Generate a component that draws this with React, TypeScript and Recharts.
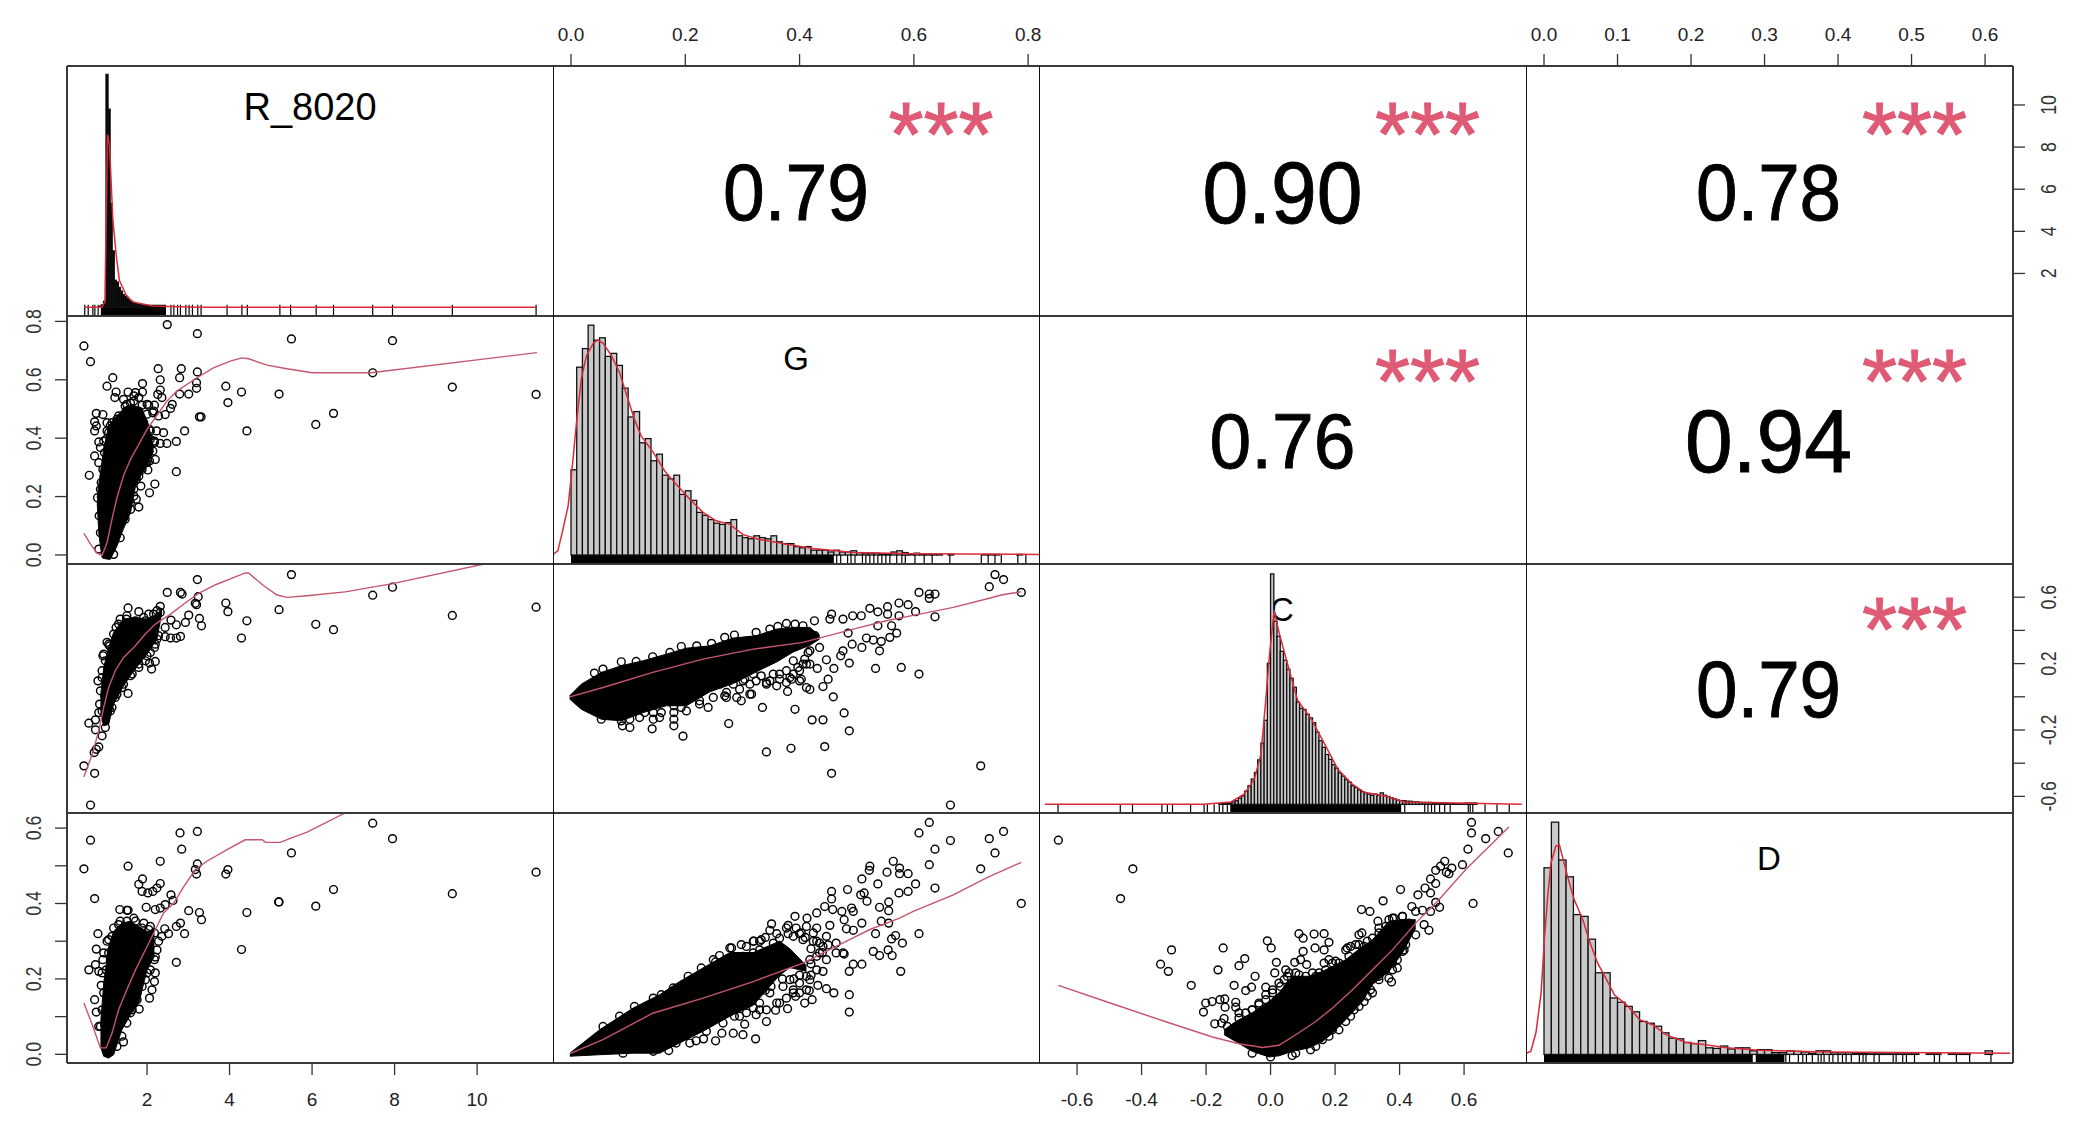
import React from "react";
import { ComposedChart, XAxis, YAxis, Scatter, Line, Area, Bar, ReferenceArea } from "recharts";

type P = [number, number];
type B = [number, number, number];

/* ---------- axis ranges and ticks ---------- */
const rRange: P = [0.06, 11.84];
const gRange: P = [-0.0315, 0.819];
const cRange: P = [-0.718, 0.792];
const dRange: P = [-0.0245, 0.638];
const rRowRange: P = [-0.02, 11.85];
const gRowRange: P = [-0.031, 0.8185];
const cRowRange: P = [-0.70, 0.80];
const dRowRange: P = [-0.023, 0.64];

const rTicksX = [2, 4, 6, 8, 10];
const gTicksX = [0, 0.2, 0.4, 0.6, 0.8];
const cTicksX = [-0.6, -0.4, -0.2, 0, 0.2, 0.4, 0.6];
const dTicksX = [0, 0.1, 0.2, 0.3, 0.4, 0.5, 0.6];
const rTicksY = [2, 4, 6, 8, 10];
const gTicksY = [0, 0.2, 0.4, 0.6, 0.8];
const cTicksY = [-0.6, -0.4, -0.2, 0, 0.2, 0.4, 0.6];
const cLabelsY = [-0.6, -0.2, 0.2, 0.6];
const dTicksY = [0, 0.1, 0.2, 0.3, 0.4, 0.5, 0.6];
const dLabelsY = [0, 0.2, 0.4, 0.6];

/* ---------- correlations ---------- */
const corRG = "0.79";
const corRC = "0.90";
const corRD = "0.78";
const corGC = "0.76";
const corGD = "0.94";
const corCD = "0.79";

/* ---------- histograms (diagonal) ---------- */
const rBins: P[] = [[0.87,0.02],[0.92,0.04],[0.97,0.1],[1.03,3.88],[1.08,3.3],[1.13,1.73],[1.18,0.94],[1.23,0.45],[1.28,0.42],[1.33,0.33],[1.38,0.27],[1.43,0.21],[1.48,0.18],[1.53,0.15],[1.58,0.12],[1.63,0.1],[1.68,0.08],[1.73,0.06],[1.78,0.05],[1.83,0.05],[1.88,0.04],[1.93,0.03],[2.03,0.03]];
const gHeights = [1.42,3.13,3.44,3.83,3.58,3.62,3.31,3.36,3.16,2.78,2.30,2.39,1.87,1.94,1.57,1.68,1.33,1.27,1.33,1.01,1.07,0.91,0.71,0.66,0.59,0.53,0.51,0.54,0.59,0.32,0.29,0.27,0.32,0.29,0.27,0.32,0.22,0.19,0.19,0.14,0.12,0.14,0.08,0.08,0.08,0.05,0.08,0.05,0.05,0.07,0.04,0.03,0.03,0.03,0.02,0.02,0.05,0.07,0.04,0.02,0.03,0.01,0.01,0.01,0.01,0,0.01,0,0,0,0,0,0.01,0.01,0.01,0,0,0,0.01];
const cHeights = [0.01,0.01,0.02,0.02,0.04,0.06,0.10,0.14,0.22,0.31,0.42,0.53,0.74,1.02,1.40,2.35,3.84,3.05,2.8,2.55,2.4,2.25,2.1,1.95,1.7,1.6,1.58,1.5,1.44,1.36,1.2,1.06,0.95,0.83,0.75,0.66,0.6,0.52,0.47,0.41,0.37,0.31,0.28,0.24,0.21,0.19,0.17,0.15,0.17,0.15,0.19,0.15,0.13,0.11,0.09,0.07,0.06,0.06,0.05,0.05,0.04,0.04,0.03,0.03,0.03,0.03,0.02,0.02,0.02,0.01,0.01,0.01,0.01,0.01,0.01,0.01,0.02,0.02,0.02,0.02];
const dHeights = [3.11,3.87,3.24,2.96,2.33,2.30,1.92,1.36,1.36,0.94,0.87,0.80,0.71,0.55,0.52,0.47,0.36,0.27,0.26,0.20,0.18,0.23,0.11,0.10,0.14,0.09,0.11,0.11,0.06,0.08,0.08,0.03,0.03,0.06,0.05,0.04,0.02,0.06,0.06,0.03,0.03,0.03,0.02,0.02,0.01,0.01,0.01,0.01,0.01,0.01,0.01,0,0.01,0.01,0,0.01,0.01,0.01,0,0,0.06];

/* ---------- density curves ---------- */
const rDensity: P[] = [[0.47,0],[0.9,0],[0.98,0.09],[1.04,2.88],[1.09,2.7],[1.17,1.48],[1.25,0.88],[1.33,0.45],[1.49,0.21],[1.65,0.09],[2.13,0.02],[3.2,0],[11.43,0]];
const gDensity: P[] = [[-0.0315,0.01],[-0.023,0.07],[-0.014,0.43],[-0.005,0.82],[0.0035,1.59],[0.009,2.15],[0.018,2.93],[0.027,3.32],[0.039,3.53],[0.047,3.58],[0.056,3.53],[0.071,3.32],[0.085,3.04],[0.097,2.68],[0.111,2.26],[0.123,1.98],[0.144,1.71],[0.164,1.40],[0.184,1.18],[0.208,0.93],[0.231,0.71],[0.254,0.57],[0.278,0.51],[0.301,0.34],[0.33,0.26],[0.377,0.18],[0.424,0.11],[0.494,0.04],[0.6,0.02],[0.819,0.01]];
const cDensity: P[] = [[-0.70,0],[-0.206,0],[-0.123,0.04],[-0.082,0.17],[-0.051,0.41],[-0.03,0.83],[-0.016,1.67],[-0.003,2.51],[0.011,3.23],[0.026,2.87],[0.053,2.33],[0.084,1.73],[0.125,1.43],[0.167,1.01],[0.208,0.59],[0.25,0.35],[0.291,0.20],[0.354,0.14],[0.416,0.04],[0.779,0]];
const dDensity: P[] = [[-0.0245,0.02],[-0.018,0.05],[-0.011,0.36],[-0.004,1.02],[0.0005,1.91],[0.005,2.63],[0.0095,3.19],[0.016,3.47],[0.021,3.49],[0.025,3.30],[0.032,2.97],[0.041,2.58],[0.053,2.24],[0.062,1.88],[0.073,1.52],[0.084,1.27],[0.096,0.99],[0.112,0.83],[0.13,0.58],[0.148,0.49],[0.166,0.33],[0.193,0.20],[0.22,0.16],[0.248,0.11],[0.293,0.07],[0.384,0.04],[0.634,0.02]];

/* ---------- rugs ---------- */
const rRug = [0.49,0.574,0.687,0.735,0.815,2.58,2.65,2.74,2.81,2.94,3.02,3.10,3.23,3.31,3.94,4.30,4.43,5.22,5.48,6.10,6.52,7.47,7.95,9.40,11.43];
const rRugSolid: P[] = [[0.88,2.46]];
const gRug = [0.465,0.472,0.484,0.49,0.497,0.51,0.516,0.523,0.53,0.537,0.544,0.551,0.558,0.57,0.579,0.585,0.602,0.618,0.632,0.663,0.718,0.73,0.742,0.753,0.782,0.796];
const gRugSolid: P[] = [[0,0.46]];
const cRug = [-0.659,-0.466,-0.428,-0.337,-0.32,-0.304,-0.248,-0.206,-0.196,-0.175,-0.159,-0.148,-0.134,0.416,0.478,0.488,0.499,0.509,0.524,0.54,0.557,0.613,0.619,0.627,0.665,0.702,0.74];
const cRugSolid: P[] = [[-0.125,0.405]];
const dRug = [0.329,0.334,0.346,0.352,0.357,0.365,0.373,0.377,0.381,0.388,0.393,0.40,0.406,0.411,0.418,0.429,0.434,0.438,0.449,0.456,0.475,0.479,0.488,0.493,0.504,0.531,0.538,0.561,0.579,0.608];
const dRugSolid: P[] = [[0,0.284],[0.288,0.327]];

/* ---------- scatter: G against R_8020 ---------- */
const gVsR: P[] = [[2.49,0.789],[3.22,0.758],[5.50,0.740],[0.47,0.716],[0.63,0.662],[2.27,0.638],[2.83,0.638],[3.22,0.627],[1.17,0.607],[2.32,0.600],[2.79,0.607],[1.03,0.578],[1.25,0.558],[1.22,0.539],[1.89,0.587],[1.89,0.558],[2.32,0.565],[2.26,0.550],[2.36,0.539],[1.54,0.558],[2.79,0.551],[3.01,0.551],[3.20,0.571],[3.20,0.590],[3.91,0.578],[4.29,0.558],[5.20,0.551],[3.96,0.522],[2.61,0.516],[2.57,0.502],[2.44,0.481],[3.27,0.473],[3.31,0.473],[4.42,0.425],[2.91,0.425],[2.40,0.419],[2.71,0.389],[2.48,0.382],[2.32,0.382],[2.20,0.327],[2.02,0.291],[2.71,0.285],[2.19,0.243],[2.06,0.213],[1.80,0.164],[0.73,0.339],[0.60,0.273],[0.77,0.485],[0.73,0.456],[0.77,0.442],[0.73,0.425],[0.93,0.481],[1.07,0.419],[0.83,0.387],[1.43,0.533],[1.68,0.545],[1.88,0.513],[2.04,0.513],[2.18,0.513],[1.80,0.493],[2.0,0.482],[2.14,0.487],[1.92,0.453],[2.06,0.430],[2.23,0.425],[2.18,0.385],[2.06,0.322],[1.96,0.316],[1.85,0.236],[1.74,0.191],[1.03,0.453],[11.43,0.55],[9.40,0.575],[7.95,0.734],[7.47,0.624],[6.09,0.447],[6.52,0.485],
[0.83,0.02],[0.87,0.076],[0.84,0.134],[0.80,0.196],[0.89,0.248],[0.93,0.293],[0.97,0.350],[1.01,0.396],[1.11,0.442],[1.31,0.476],[1.47,0.510],[1.60,0.52],[1.19,0.002],[1.35,0.059],[1.47,0.122],[1.60,0.156],[1.68,0.202],[1.74,0.259],[1.88,0.293],[2.0,0.316],[2.14,0.356],[2.18,0.390],[2.08,0.425],
[1.51,0.516],[1.68,0.527],[1.80,0.539],[2.0,0.516],[2.16,0.493],[2.28,0.476],[1.72,0.556],[1.27,0.465],[1.15,0.453],[1.03,0.425],[0.95,0.39],[0.87,0.368],[0.83,0.316],[0.87,0.225],[2.08,0.396],[2.0,0.339],[1.88,0.328],[1.80,0.27],[1.68,0.225],[1.6,0.179]];
const gVsRCore: B[] = [[0.79,0.185,0.196],[0.83,0.076,0.24],[0.87,0.03,0.282],[0.91,-0.009,0.32],[0.95,-0.012,0.362],[1.07,-0.015,0.442],[1.11,-0.015,0.45],[1.27,0.03,0.476],[1.39,0.076,0.495],[1.43,0.09,0.505],[1.60,0.145,0.513],[1.72,0.236,0.51],[1.88,0.28,0.499],[2.0,0.305,0.46],[2.04,0.32,0.442],[2.16,0.356,0.368]];
const gVsRLoess: P[] = [[0.47,0.074],[0.63,0.037],[0.79,0.006],[0.91,-0.001],[1.03,0.042],[1.15,0.122],[1.27,0.196],[1.43,0.271],[1.60,0.328],[1.80,0.379],[2.0,0.430],[2.20,0.470],[2.48,0.527],[2.73,0.562],[3.21,0.607],[3.62,0.642],[4.02,0.664],[4.30,0.675],[4.46,0.672],[4.91,0.650],[5.39,0.638],[6.0,0.624],[7.43,0.624],[11.45,0.693]];

/* ---------- scatter: C against R_8020 ---------- */
const cVsR: P[] = [[3.22,0.706],[5.50,0.736],[2.49,0.629],[2.81,0.629],[2.85,0.619],[3.24,0.603],[3.17,0.563],[3.20,0.555],[3.91,0.565],[3.96,0.513],[5.20,0.525],[4.42,0.458],[4.29,0.354],[1.54,0.535],[1.80,0.513],[2.32,0.545],[2.32,0.508],[3.01,0.492],[3.27,0.472],[3.32,0.428],[2.93,0.448],[2.71,0.434],[2.58,0.462],[2.44,0.418],[2.81,0.364],[2.71,0.354],[2.57,0.354],[2.44,0.362],[2.28,0.368],[2.20,0.213],[2.06,0.203],[2.11,0.167],[1.80,0.177],[1.54,0.020],[0.81,0.096],[0.93,0.247],[1.07,0.317],[1.25,0.418],[0.59,-0.159],[0.75,-0.139],[0.75,-0.199],[0.91,-0.235],[0.99,-0.185],[0.83,-0.302],[0.77,-0.316],[0.72,-0.336],[0.47,-0.416],[0.73,-0.461],[0.63,-0.652],[0.83,-0.095],[7.47,0.612],[7.95,0.66],[9.40,0.49],[11.43,0.54],[6.09,0.437],[6.52,0.404],
[0.87,0.036],[0.91,0.116],[0.99,0.217],[1.09,0.307],[1.19,0.378],[1.31,0.438],[1.50,0.468],[1.72,0.458],[1.96,0.458],[2.16,0.498],[1.11,-0.085],[1.23,-0.004],[1.39,0.056],[1.60,0.127],[1.80,0.197],[2.0,0.247],[2.18,0.297],[2.24,0.348],[0.91,-0.085],[0.85,-0.044],
[1.35,0.468],[1.51,0.488],[1.92,0.478],[2.04,0.498],[2.24,0.519],[1.03,0.328],[0.95,0.257],[0.91,0.157],[1.64,0.137],[1.43,0.076],[1.27,0.016],[1.15,-0.064],[2.08,0.267],[2.2,0.317],[1.96,0.217]];
const cVsRCore: B[] = [[0.87,-0.105,-0.004],[0.95,-0.175,0.177],[1.07,-0.165,0.297],[1.19,-0.044,0.388],[1.43,0.066,0.468],[1.68,0.157,0.478],[2.0,0.257,0.468],[2.24,0.348,0.498],[2.36,0.508,0.529]];
const cVsRLoess: P[] = [[0.47,-0.483],[0.67,-0.346],[0.83,-0.205],[0.95,-0.064],[1.07,0.056],[1.23,0.157],[1.43,0.237],[1.68,0.297],[1.96,0.378],[2.20,0.438],[2.57,0.498],[2.89,0.559],[3.25,0.623],[3.66,0.675],[4.02,0.710],[4.38,0.746],[4.46,0.746],[4.83,0.669],[5.15,0.613],[5.39,0.599],[5.88,0.609],[6.8,0.632],[7.95,0.682],[10.17,0.80]];

/* ---------- scatter: D against R_8020 ---------- */
const dVsR: P[] = [[2.80,0.587],[3.22,0.591],[0.63,0.568],[2.84,0.544],[2.32,0.512],[1.54,0.499],[0.47,0.492],[3.22,0.505],[3.17,0.490],[3.20,0.478],[5.50,0.534],[3.96,0.490],[3.91,0.478],[1.89,0.465],[1.80,0.451],[2.32,0.453],[2.24,0.441],[2.14,0.432],[1.88,0.432],[2.02,0.428],[0.73,0.413],[2.58,0.423],[2.63,0.408],[2.44,0.397],[2.32,0.388],[2.20,0.384],[1.98,0.390],[1.34,0.384],[1.51,0.382],[1.54,0.382],[3.01,0.381],[3.27,0.376],[3.32,0.357],[4.42,0.376],[5.20,0.404],[2.81,0.348],[2.71,0.339],[2.91,0.320],[2.52,0.320],[2.43,0.333],[2.36,0.313],[2.28,0.300],[4.29,0.278],[2.71,0.244],[2.20,0.258],[0.81,0.320],[0.77,0.279],[1.03,0.300],[0.59,0.224],[0.75,0.238],[0.83,0.220],[0.93,0.251],[0.89,0.183],[2.20,0.216],[2.18,0.193],[2.12,0.171],[2.06,0.149],[1.81,0.120],[0.73,0.145],[0.77,0.112],[0.83,0.074],[1.43,0.033],[2.08,0.224],[11.43,0.483],[9.40,0.426],[7.95,0.572],[7.47,0.613],[6.52,0.437],[6.09,0.393],[5.19,0.404],
[0.87,0.074],[0.91,0.118],[0.95,0.163],[1.01,0.224],[1.07,0.269],[1.15,0.313],[1.31,0.344],[1.51,0.353],[1.72,0.353],[1.88,0.335],[2.04,0.331],[1.27,0.021],[1.39,0.048],[1.51,0.083],[1.64,0.118],[1.76,0.145],[1.88,0.18],[2.0,0.216],[2.18,0.251],[2.24,0.277],
[1.35,0.353],[1.19,0.335],[1.07,0.304],[0.95,0.269],[0.91,0.216],[1.68,0.361],[1.92,0.348],[2.08,0.339],[2.18,0.322],[2.04,0.291],[2.0,0.251],[1.88,0.224],[1.96,0.198],[1.76,0.163],[1.6,0.11]];
const dVsRCore: B[] = [[0.87,0.021,0.074],[0.95,-0.005,0.189],[1.07,-0.01,0.286],[1.19,-0.001,0.326],[1.39,0.065,0.348],[1.60,0.105,0.353],[1.80,0.136,0.339],[2.0,0.224,0.326],[2.18,0.26,0.33]];
const dVsRLoess: P[] = [[0.47,0.136],[0.67,0.079],[0.87,0.017],[1.01,0.017],[1.15,0.056],[1.31,0.118],[1.51,0.171],[1.72,0.224],[2.0,0.286],[2.24,0.339],[2.40,0.375],[2.65,0.401],[2.89,0.445],[3.17,0.490],[3.45,0.512],[3.94,0.543],[4.38,0.569],[4.79,0.569],[4.87,0.562],[5.23,0.562],[5.55,0.576],[5.88,0.589],[6.8,0.64]];

/* ---------- scatter: C against G ---------- */
const cVsG: P[] = [[0.742,0.736],[0.757,0.706],[0.732,0.663],[0.788,0.629],[0.609,0.629],[0.627,0.619],[0.637,0.619],[0.627,0.593],[0.637,0.482],[0.603,0.513],[0.590,0.555],[0.574,0.565],[0.554,0.543],[0.574,0.488],[0.554,0.498],[0.537,0.512],[0.523,0.533],[0.508,0.488],[0.493,0.488],[0.476,0.468],[0.456,0.498],[0.426,0.458],[0.537,0.428],[0.561,0.428],[0.570,0.384],[0.558,0.358],[0.543,0.334],[0.540,0.277],[0.529,0.342],[0.517,0.354],[0.509,0.297],[0.492,0.317],[0.485,0.384],[0.476,0.277],[0.472,0.247],[0.487,0.203],[0.533,0.171],[0.578,0.177],[0.609,0.137],[0.460,0.171],[0.447,0.223],[0.431,0.171],[0.450,0.106],[0.441,0.062],[0.459,0],[0.418,0.044],[0.412,0.056],[0.400,0.096],[0.379,0.032],[0.478,-0.097],[0.487,-0.205],[0.444,-0.30],[0.456,-0.461],[0.385,-0.31],[0.342,-0.332],[0.276,-0.161],[0.196,-0.237],[0.142,-0.193],[0.090,-0.175],[0.422,-0.139],[0.441,-0.139],[0.392,-0.075],[0.335,-0.064],[0.240,-0.064],[0.180,-0.175],[0.180,-0.135],[0.180,-0.095],[0.180,-0.054],[0.144,-0.135],[0.144,-0.095],[0.717,-0.416],[0.664,-0.652],[0.298,-0.024],[0.360,0.066],[0.313,0.016],[0.301,0.096],[0.319,0.137],[0.348,0.096],[0.383,0.116],[0.412,0.197],[0.400,0.157],[0.418,0.277],[0.435,0.297],[0.427,0.368],[0.453,0.468],[0.377,0.442],[0.392,0.438],[0.406,0.428],
[0.041,0.143],[0.056,0.167],[0.088,0.211],[0.114,0.213],[0.143,0.241],[0.173,0.267],[0.193,0.303],[0.22,0.307],[0.246,0.322],[0.269,0.358],[0.286,0.372],[0.324,0.388],[0.348,0.408],[0.362,0.424],[0.053,-0.135],[0.088,-0.145],[0.103,-0.135],[0.129,-0.095],[0.158,-0.095],[0.193,-0.064],[0.225,-0.044],[0.249,-0.004],[0.269,0.006],[0.316,0.016],[0.342,0.076],[0.365,0.137],[0.386,0.106],[0.406,0.197],[0.415,0.267],
[0.26,0.076],[0.272,0.026],[0.284,0.076],[0.295,0.046],[0.304,0.106],[0.313,0.076],[0.324,0.096],[0.333,0.126],[0.342,0.086],[0.354,0.137],[0.365,0.106],[0.377,0.157],[0.389,0.137],[0.397,0.177],[0.409,0.227],[0.418,0.197],[0.403,0.106],[0.377,0.086],[0.389,0.217],[0.272,-0.004],[0.29,-0.004],[0.225,-0.024],[0.202,-0.085],[0.155,-0.125],[0.12,-0.125],[0.103,-0.185]];
const cVsGCore: B[] = [[-0.0023,-0.014,0.006],[0.018,-0.075,0.076],[0.053,-0.135,0.147],[0.088,-0.145,0.187],[0.126,-0.095,0.217],[0.167,-0.054,0.257],[0.202,-0.054,0.293],[0.243,0.03,0.307],[0.284,0.08,0.354],[0.324,0.15,0.368],[0.360,0.21,0.408],[0.389,0.27,0.418],[0.418,0.31,0.418],[0.435,0.348,0.368]];
const cVsGLoess: P[] = [[-0.0023,0],[0.056,0.056],[0.143,0.147],[0.231,0.227],[0.319,0.287],[0.406,0.328],[0.494,0.408],[0.552,0.458],[0.61,0.498],[0.669,0.539],[0.727,0.589],[0.753,0.613],[0.788,0.633]];

/* ---------- scatter: D against G ---------- */
const dVsG: P[] = [[0.627,0.615],[0.609,0.587],[0.757,0.591],[0.732,0.572],[0.664,0.567],[0.637,0.544],[0.742,0.534],[0.627,0.503],[0.717,0.492],[0.564,0.512],[0.575,0.494],[0.590,0.479],[0.575,0.479],[0.553,0.483],[0.523,0.499],[0.522,0.488],[0.509,0.465],[0.537,0.452],[0.603,0.452],[0.637,0.441],[0.590,0.432],[0.574,0.428],[0.484,0.437],[0.456,0.432],[0.456,0.412],[0.513,0.428],[0.507,0.423],[0.518,0.406],[0.788,0.4],[0.556,0.404],[0.540,0.39],[0.556,0.381],[0.491,0.388],[0.494,0.379],[0.474,0.379],[0.458,0.384],[0.444,0.392],[0.430,0.375],[0.478,0.357],[0.509,0.348],[0.543,0.353],[0.556,0.348],[0.609,0.32],[0.482,0.333],[0.494,0.329],[0.533,0.32],[0.453,0.342],[0.392,0.366],[0.413,0.361],[0.380,0.342],[0.351,0.346],[0.348,0.329],[0.568,0.315],[0.561,0.306],[0.580,0.295],[0.555,0.277],[0.529,0.273],[0.540,0.262],[0.562,0.262],[0.509,0.239],[0.494,0.239],[0.478,0.266],[0.487,0.22],[0.577,0.22],[0.441,0.22],[0.432,0.183],[0.447,0.174],[0.460,0.163],[0.487,0.158],[0.487,0.112],[0.417,0.169],[0.409,0.136],[0.422,0.145],[0.393,0.154],[0.379,0.121],[0.358,0.117],[0.342,0.087],[0.324,0.105],[0.304,0.08],[0.323,0.041],[0.301,0.052],[0.284,0.056],[0.264,0.056],[0.253,0.036],[0.171,0.01],[0.232,0.041],[0.219,0.036],[0.281,0.282],[0.260,0.262],[0.253,0.245],[0.319,0.3],[0.333,0.304],[0.403,0.322],[0.424,0.322],[0.435,0.295],[0.464,0.295],[0.476,0.269],
[0.056,0.074],[0.085,0.101],[0.111,0.127],[0.144,0.149],[0.158,0.158],[0.179,0.176],[0.205,0.207],[0.228,0.229],[0.249,0.251],[0.278,0.282],[0.298,0.291],[0.33,0.30],[0.365,0.308],[0.091,0.003],[0.144,0.008],[0.184,0.03],[0.208,0.03],[0.237,0.061],[0.266,0.083],[0.286,0.101],[0.33,0.118],[0.365,0.136],[0.389,0.163],[0.418,0.198],
[0.348,0.163],[0.36,0.136],[0.377,0.149],[0.389,0.171],[0.371,0.18],[0.4,0.189],[0.412,0.171],[0.342,0.118],[0.33,0.136],[0.319,0.123],[0.307,0.11],[0.295,0.101],[0.4,0.163],[0.383,0.198],[0.377,0.335],[0.394,0.335],[0.412,0.339],[0.43,0.335],[0.447,0.313],[0.435,0.269],[0.418,0.251],[0.447,0.251],[0.464,0.269],[0.389,0.313],[0.406,0.304],[0.424,0.3],[0.441,0.286],[0.43,0.224],[0.412,0.207],[0.307,0.286],[0.301,0.26],[0.319,0.269],[0.33,0.277],[0.342,0.269],[0.354,0.295],
[0.42,0.28],[0.43,0.26],[0.42,0.24],[0.44,0.27],[0.45,0.29],[0.43,0.30],[0.41,0.31],[0.40,0.32],[0.38,0.32],[0.36,0.32],[0.34,0.31],[0.32,0.30],[0.40,0.21],[0.42,0.21],[0.39,0.2],[0.37,0.2],[0.35,0.18],[0.34,0.17]];
const dVsGCore: B[] = [[-0.002,-0.005,0.003],[0.050,-0.001,0.065],[0.109,0.003,0.123],[0.155,0.003,0.158],[0.190,0.03,0.193],[0.231,0.061,0.229],[0.278,0.101,0.27],[0.319,0.13,0.27],[0.365,0.21,0.30],[0.383,0.23,0.28],[0.412,0.22,0.235]];
const dVsGLoess: P[] = [[-0.002,0.002],[0.056,0.039],[0.143,0.109],[0.231,0.149],[0.319,0.193],[0.406,0.242],[0.47,0.291],[0.523,0.331],[0.575,0.361],[0.599,0.379],[0.669,0.423],[0.727,0.468],[0.788,0.509]];

/* ---------- scatter: D against C ---------- */
const dVsC: P[] = [[-0.658,0.568],[-0.427,0.492],[-0.465,0.413],[-0.307,0.277],[-0.341,0.239],[-0.317,0.22],[-0.246,0.183],[-0.147,0.282],[-0.163,0.224],[-0.098,0.235],[-0.08,0.254],[-0.048,0.207],[-0.113,0.183],[-0.059,0.178],[-0.077,0.169],[-0.015,0.178],[-0.01,0.301],[0.002,0.282],[0.018,0.244],[0.013,0.216],[0.088,0.32],[0.101,0.308],[0.135,0.319],[0.166,0.32],[0.181,0.297],[0.138,0.282],[0.166,0.277],[0.101,0.273],[0.075,0.244],[0.093,0.251],[0.112,0.238],[-0.208,0.112],[-0.201,0.136],[-0.181,0.14],[-0.157,0.145],[-0.142,0.147],[-0.141,0.125],[-0.108,0.138],[-0.108,0.125],[-0.173,0.081],[-0.152,0.083],[-0.144,0.095],[-0.036,0.136],[0.006,0.171],[0.124,0.012],[0.067,-0.003],[0.282,0.384],[0.308,0.379],[0.349,0.407],[0.403,0.437],[0.457,0.423],[0.496,0.465],[0.512,0.488],[0.527,0.499],[0.54,0.512],[0.562,0.494],[0.595,0.503],[0.553,0.479],[0.545,0.483],[0.623,0.615],[0.623,0.587],[0.706,0.591],[0.667,0.572],[0.612,0.544],[0.737,0.534],[0.628,0.4],[0.512,0.453],[0.496,0.428],[0.479,0.441],[0.512,0.403],[0.524,0.39],[0.496,0.379],[0.471,0.382],[0.438,0.392],[0.45,0.379],[0.476,0.344],[0.491,0.329],[0.333,0.353],[0.283,0.322],[0.238,0.282],[0.383,0.361],[0.419,0.291],[0.409,0.273],[0.393,0.229],[0.375,0.192],[0.367,0.202],[0.192,0.242],[0.15,0.216],[0.057,0.216],[0.042,0.198],
[-0.134,0.074],[-0.098,0.096],[-0.057,0.118],[-0.015,0.145],[0.031,0.18],[0.052,0.207],[0.088,0.211],[0.14,0.207],[0.171,0.224],[0.212,0.242],[0.243,0.26],[0.274,0.291],[0.316,0.308],[0.336,0.335],[0.367,0.357],[0.409,0.366],[-0.057,0.003],[0,-0.007],[0.078,0.003],[0.161,0.039],[0.192,0.065],[0.233,0.087],[0.259,0.118],[0.29,0.14],[0.31,0.171],[0.336,0.207],[0.378,0.224],[0.414,0.277],[0.45,0.317],
[0.047,0.224],[0.078,0.216],[0.109,0.207],[0.026,0.189],[0.006,0.163],[-0.015,0.158],[-0.036,0.132],[-0.057,0.118],[-0.077,0.11],[-0.098,0.11],[0.13,0.216],[0.166,0.242],[0.181,0.251],[0.202,0.247],[0.233,0.277],[0.248,0.286],[0.264,0.291],[0.29,0.286],[0.274,0.317],[0.30,0.30],[0.336,0.322],[0.357,0.339],[0.378,0.361],[0.409,0.366],[0.429,0.348],[0.357,0.224],[0.378,0.242],[0.393,0.251],[0.336,0.198],[0.316,0.163],[0.30,0.154],[0.274,0.127],[0.248,0.101],[0.212,0.065],[0.181,0.048],[0.14,0.021]];
const dVsCCore: B[] = [[-0.144,0.052,0.065],[-0.108,0.034,0.087],[-0.057,0.008,0.11],[-0.005,-0.007,0.14],[0.026,-0.004,0.163],[0.068,0.008,0.207],[0.119,0.017,0.207],[0.161,0.034,0.22],[0.192,0.056,0.233],[0.233,0.092,0.251],[0.285,0.14,0.286],[0.316,0.185,0.304],[0.367,0.22,0.353],[0.409,0.269,0.357],[0.45,0.335,0.357]];
const dVsCLoess: P[] = [[-0.658,0.183],[-0.511,0.14],[-0.32,0.085],[-0.18,0.046],[-0.098,0.028],[-0.025,0.018],[0.026,0.024],[0.078,0.052],[0.14,0.087],[0.192,0.123],[0.254,0.171],[0.316,0.224],[0.378,0.277],[0.45,0.348],[0.522,0.41],[0.605,0.49],[0.739,0.603]];

/* ---------- layout and style ---------- */
const colEdges = [67, 553, 1039, 1526, 2013];
const rowEdges = [66, 316, 564, 813, 1063];
const PAD = 70;
const AXIS = 40;
const FONT = "'Liberation Sans', Arial, sans-serif";
const LOESS = "#C4566E";
const RED = "#DA2A3A";
const STAR = "#DF5A74";
const TICKLINE = { stroke: "#333", strokeWidth: 1.3 };

const asXY = (list: P[]) => list.map(([x, y]) => ({ x, y }));
const Ring = (p: any) => <circle cx={p.cx} cy={p.cy} r={3.9} fill="none" stroke="#000" strokeWidth={1.45} />;
const none: number[] = [];

function Panel(props: any) {
  const { col, row, xDom, yDom, xTicks, xLabels, xOrient, yTicks, yLabels, yOrient, xFmt, yFmt, data, children } = props;
  const w = colEdges[col + 1] - colEdges[col];
  const h = rowEdges[row + 1] - rowEdges[row];
  const xTick = (p: any) => {
    const v = p.payload.value;
    if (!(xLabels || xTicks).includes(v)) return <g />;
    const y = xOrient === "top" ? PAD - 31.5 : PAD + h + 36;
    return <text x={p.x} y={y} textAnchor="middle" dominantBaseline="central" fontFamily={FONT} fontSize={19} fill="#222">{xFmt(v)}</text>;
  };
  const yTick = (p: any) => {
    const v = p.payload.value;
    if (!(yLabels || yTicks).includes(v)) return <g />;
    const x = yOrient === "left" ? PAD - 34 : PAD + w + 35;
    return <text transform={`translate(${x},${p.y}) rotate(-90) scale(0.93,1.15)`} textAnchor="middle" dominantBaseline="central" fontFamily={FONT} fontSize={19} fill="#333">{yFmt(v)}</text>;
  };
  return (
    <div style={{ position: "absolute", left: colEdges[col] - PAD, top: rowEdges[row] - PAD, pointerEvents: "none" }}>
      <ComposedChart width={w + 2 * PAD} height={h + 2 * PAD} data={data || []} barCategoryGap={0} barGap={0}
        margin={{ top: PAD - (xOrient === "top" ? AXIS : 0), bottom: PAD - (xOrient === "bottom" ? AXIS : 0), left: PAD - (yOrient === "left" ? AXIS : 0), right: PAD - (yOrient === "right" ? AXIS : 0) }}>
        <XAxis type="number" dataKey="x" domain={xDom} allowDataOverflow hide={!xOrient} orientation={xOrient || "bottom"} height={AXIS}
          ticks={xTicks || none} interval={0} tick={xTick} tickLine={TICKLINE} tickSize={12} axisLine={false} />
        <YAxis type="number" dataKey="y" domain={yDom} allowDataOverflow hide={!yOrient} orientation={yOrient || "left"} width={AXIS}
          ticks={yTicks || none} interval={0} tick={yTick} tickLine={TICKLINE} tickSize={12} axisLine={false} />
        {children}
      </ComposedChart>
    </div>
  );
}

function Scat({ pts, core, loess, ...rest }: any) {
  return (
    <Panel {...rest}>
      <Area data={core.map(([x, lo, hi]: B) => ({ x, r: [lo, hi] }))} dataKey="r" type="linear" fill="#000" fillOpacity={1} stroke="#000" strokeWidth={1} isAnimationActive={false} dot={false} activeDot={false} />
      <Scatter data={asXY(pts)} shape={Ring} isAnimationActive={false} />
      <Line data={asXY(loess)} dataKey="y" type="linear" stroke={LOESS} strokeWidth={1.4} dot={false} activeDot={false} isAnimationActive={false} zIndex={700} />
    </Panel>
  );
}

function Diag({ name, labelX, labelY, labelSize, bins, binWidth, fill, density, rug, rugSolid, rugTop, rugLen, ...rest }: any) {
  const BinRect = (p: any) => <rect x={p.x + p.width / 2 - binWidth / 2} y={p.y} width={binWidth} height={p.height} fill={fill} stroke="#111" strokeWidth={1.3} />;
  return (
    <Panel {...rest} data={bins}>
      <Bar dataKey="h" shape={BinRect} isAnimationActive={false} />
      {rugSolid.map(([a, b]: P) => (
        <ReferenceArea key={a} x1={a} x2={b} y1={rest.yDom[0]} y2={rugTop} fill="#000" fillOpacity={1} stroke="none" ifOverflow="visible" />
      ))}
      <Scatter data={rug.map((x: number) => ({ x, y: rugTop }))} isAnimationActive={false}
        shape={(p: any) => <line x1={p.cx} x2={p.cx} y1={p.cy} y2={p.cy + rugLen} stroke="#000" strokeWidth={1.2} />} />
      <Line data={asXY(density)} dataKey="y" type="linear" stroke={RED} strokeWidth={1.5} dot={false} activeDot={false} isAnimationActive={false} zIndex={700} />
      <text x={PAD + labelX} y={PAD + labelY} textAnchor="middle" fontFamily={FONT} fontSize={labelSize} fill="#000">{name}</text>
    </Panel>
  );
}

function Cor({ value, size, length, baseY, dx, starY, ...rest }: any) {
  const w = colEdges[rest.col + 1] - colEdges[rest.col];
  return (
    <Panel {...rest}>
      <text x={PAD + w / 2 + dx} y={PAD + baseY} textAnchor="middle" fontFamily={FONT} fontSize={size} textLength={length} lengthAdjust="spacingAndGlyphs" stroke="#000" strokeWidth={0.9} fill="#000">{value}</text>
      <text x={PAD + w / 2 + 145} y={PAD + starY} textAnchor="middle" fontFamily={FONT} fontSize={90} stroke={STAR} strokeWidth={1} fill={STAR}>***</text>
    </Panel>
  );
}

const int = (v: number) => String(v);
const one = (v: number) => v.toFixed(1);
const binTable = (start: number, width: number, heights: number[]) => heights.map((h, i) => ({ x: start + (i + 0.5) * width, h }));

export default function App() {
  const fr = { position: "absolute", background: "#3a3a3a" } as const;
  return (
    <div style={{ position: "absolute", left: 0, top: 0, width: 2079, height: 1125, background: "#fff", overflow: "hidden" }}>
      {/* first row */}
      <Diag col={0} row={0} xDom={rRange} yDom={[-0.145, 4.02]} name="R_8020" labelX={243} labelY={54} labelSize={38}
        bins={rBins.map(([x, h]) => ({ x, h }))} binWidth={2.06} fill="#000" density={rDensity} rug={rRug} rugSolid={rRugSolid} rugTop={0.043} rugLen={11} />
      <Cor col={1} row={0} xDom={gRange} yDom={rRowRange} xOrient="top" xTicks={gTicksX} xFmt={one} value={corRG} size={80} length={146} baseY={154} dx={0} starY={100} />
      <Cor col={2} row={0} xDom={cRange} yDom={rRowRange} value={corRC} size={88} length={160} baseY={157} dx={0} starY={100} />
      <Cor col={3} row={0} xDom={dRange} yDom={rRowRange} xOrient="top" xTicks={dTicksX} xFmt={one} yOrient="right" yTicks={rTicksY} yFmt={int} value={corRD} size={80} length={145} baseY={154} dx={-1} starY={100} />
      {/* second row */}
      <Scat col={0} row={1} xDom={rRange} yDom={gRowRange} yOrient="left" yTicks={gTicksY} yFmt={one} pts={gVsR} core={gVsRCore} loess={gVsRLoess} />
      <Diag col={1} row={1} xDom={gRange} yDom={[-0.15, 3.983]} name="G" labelX={243} labelY={54} labelSize={33}
        bins={binTable(0, 0.01, gHeights)} binWidth={5.71} fill="#C9C9C9" density={gDensity} rug={gRug} rugSolid={gRugSolid} rugTop={0} rugLen={9} />
      <Cor col={2} row={1} xDom={cRange} yDom={gRowRange} value={corGC} size={78} length={146} baseY={152} dx={0} starY={97} />
      <Cor col={3} row={1} xDom={dRange} yDom={gRowRange} value={corGD} size={89} length={167} baseY={156} dx={-1} starY={97} />
      {/* third row */}
      <Scat col={0} row={2} xDom={rRange} yDom={cRowRange} pts={cVsR} core={cVsRCore} loess={cVsRLoess} />
      <Scat col={1} row={2} xDom={gRange} yDom={cRowRange} pts={cVsG} core={cVsGCore} loess={cVsGLoess} />
      <Diag col={2} row={2} xDom={cRange} yDom={[-0.145, 4.005]} name="C" labelX={243} labelY={57} labelSize={33}
        bins={binTable(-0.16, 0.01, cHeights)} binWidth={3.225} fill="#C9C9C9" density={cDensity} rug={cRug} rugSolid={cRugSolid} rugTop={0} rugLen={9} />
      <Cor col={3} row={2} xDom={dRange} yDom={cRowRange} yOrient="right" yTicks={cTicksY} yLabels={cLabelsY} yFmt={one} value={corCD} size={80} length={145} baseY={153} dx={-1} starY={97} />
      {/* fourth row */}
      <Scat col={0} row={3} xDom={rRange} yDom={dRowRange} xOrient="bottom" xTicks={rTicksX} xFmt={int} yOrient="left" yTicks={dTicksY} yLabels={dLabelsY} yFmt={one} pts={dVsR} core={dVsRCore} loess={dVsRLoess} />
      <Scat col={1} row={3} xDom={gRange} yDom={dRowRange} pts={dVsG} core={dVsGCore} loess={dVsGLoess} />
      <Scat col={2} row={3} xDom={cRange} yDom={dRowRange} xOrient="bottom" xTicks={cTicksX} xFmt={one} pts={dVsC} core={dVsCCore} loess={dVsCLoess} />
      <Diag col={3} row={3} xDom={dRange} yDom={[-0.143, 4.023]} name="D" labelX={243} labelY={57} labelSize={33}
        bins={binTable(0, 0.01, dHeights)} binWidth={7.35} fill="#C9C9C9" density={dDensity} rug={dRug} rugSolid={dRugSolid} rugTop={0} rugLen={9} />
      {/* panel frame */}
      {rowEdges.map((y) => <div key={"h" + y} style={{ ...fr, left: colEdges[0], top: y - 1, width: colEdges[4] - colEdges[0], height: 2 }} />)}
      {colEdges.map((x, i) => <div key={"v" + x} style={{ ...fr, background: i === 0 || i === 4 ? "#3a3a3a" : "#111", left: x - (i === 0 || i === 4 ? 1 : 0.5), top: rowEdges[0], width: i === 0 || i === 4 ? 2 : 1.3, height: rowEdges[4] - rowEdges[0] }} />)}
    </div>
  );
}
